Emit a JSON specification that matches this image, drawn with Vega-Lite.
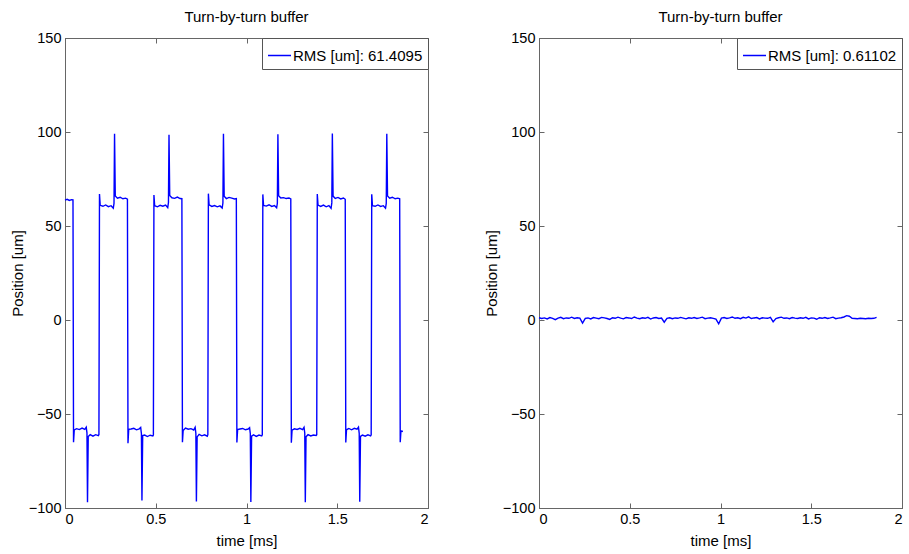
{
  "$schema": "https://vega.github.io/schema/vega-lite/v6.json",
  "background": "white",
  "padding": {"left": 9, "top": 9, "right": 2, "bottom": 2},
  "spacing": 54,
  "config": {
    "font": "Liberation Sans",
    "view": {"stroke": "#666666", "strokeWidth": 1},
    "axis": {
      "domainColor": "#666666",
      "tickColor": "#666666",
      "tickSize": -5,
      "labelFontSize": 14.5,
      "labelColor": "#000000",
      "titleFontSize": 15,
      "titleFontWeight": "normal",
      "titleColor": "#000000",
      "grid": false,
      "labelPadding": 9,
      "format": "~f"
    },
    "axisBottom": {"titlePadding": 8},
    "axisLeft": {"titlePadding": 3},
    "title": {"fontSize": 15, "fontWeight": "normal", "color": "#000000", "offset": 5},
    "legend": {
      "orient": "top-right",
      "offset": 0,
      "strokeColor": "#555555",
      "fillColor": "#ffffff",
      "padding": 5,
      "symbolType": "stroke",
      "symbolSize": 529,
      "symbolStrokeWidth": 1.5,
      "labelOffset": 1,
      "labelFontSize": 15,
      "labelColor": "#000000",
      "title": null
    }
  },
  "datasets": {
    "a": [
      {"t":0.000,"v":63.8},{"t":0.012,"v":64.2},{"t":0.024,"v":63.6},{"t":0.036,"v":64.0},
      {"t":0.044,"v":63.9},{"t":0.047,"v":-65},{"t":0.051,"v":-58.5},{"t":0.064,"v":-57.8},{"t":0.079,"v":-58.3},{"t":0.094,"v":-57.5},{"t":0.109,"v":-58.2},{"t":0.117,"v":-57.0},{"t":0.121,"v":-60},{"t":0.124,"v":-97},{"t":0.128,"v":-62},{"t":0.139,"v":-61},{"t":0.154,"v":-61.8},{"t":0.169,"v":-61},{"t":0.184,"v":-61.5},{"t":0.187,"v":-61},{"t":0.190,"v":67},{"t":0.194,"v":61},{"t":0.209,"v":60.5},{"t":0.224,"v":61.2},{"t":0.239,"v":60.3},{"t":0.254,"v":60.8},{"t":0.266,"v":59.5},{"t":0.270,"v":62},{"t":0.273,"v":99},{"t":0.277,"v":66},{"t":0.289,"v":64.8},{"t":0.304,"v":65.3},{"t":0.319,"v":64.5},{"t":0.334,"v":64.8},
      {"t":0.344,"v":64.3},{"t":0.347,"v":-65.5},{"t":0.351,"v":-58.2},{"t":0.364,"v":-58.0},{"t":0.379,"v":-57.6},{"t":0.394,"v":-58.4},{"t":0.409,"v":-57.9},{"t":0.417,"v":-57.2},{"t":0.421,"v":-60.5},{"t":0.424,"v":-96},{"t":0.428,"v":-61.5},{"t":0.439,"v":-61.2},{"t":0.454,"v":-62.0},{"t":0.469,"v":-61.3},{"t":0.484,"v":-61.7},{"t":0.487,"v":-61.2},{"t":0.490,"v":66.5},{"t":0.494,"v":60.8},{"t":0.509,"v":60.2},{"t":0.524,"v":61.0},{"t":0.539,"v":60.5},{"t":0.554,"v":61.1},{"t":0.566,"v":59.8},{"t":0.570,"v":62.5},{"t":0.573,"v":98.5},{"t":0.577,"v":66.2},{"t":0.589,"v":65.0},{"t":0.604,"v":64.7},{"t":0.619,"v":65.4},{"t":0.634,"v":64.6},
      {"t":0.644,"v":64.5},{"t":0.647,"v":-65},{"t":0.651,"v":-58.8},{"t":0.664,"v":-57.5},{"t":0.679,"v":-58.1},{"t":0.694,"v":-57.8},{"t":0.709,"v":-58.5},{"t":0.717,"v":-57.1},{"t":0.721,"v":-60.2},{"t":0.724,"v":-96.5},{"t":0.728,"v":-62.2},{"t":0.739,"v":-60.8},{"t":0.754,"v":-61.6},{"t":0.769,"v":-61.1},{"t":0.784,"v":-61.8},{"t":0.787,"v":-61.0},{"t":0.790,"v":67.2},{"t":0.794,"v":61.2},{"t":0.809,"v":60.4},{"t":0.824,"v":60.9},{"t":0.839,"v":60.2},{"t":0.854,"v":60.7},{"t":0.866,"v":59.6},{"t":0.870,"v":62.2},{"t":0.873,"v":99},{"t":0.877,"v":65.8},{"t":0.889,"v":64.6},{"t":0.904,"v":65.2},{"t":0.919,"v":64.8},{"t":0.934,"v":64.4},
      {"t":0.944,"v":64.6},{"t":0.947,"v":-65.2},{"t":0.951,"v":-58.3},{"t":0.964,"v":-58.0},{"t":0.979,"v":-57.7},{"t":0.994,"v":-58.4},{"t":1.009,"v":-58.0},{"t":1.017,"v":-57.3},{"t":1.021,"v":-60.4},{"t":1.024,"v":-96.8},{"t":1.028,"v":-61.8},{"t":1.039,"v":-61.1},{"t":1.054,"v":-61.9},{"t":1.069,"v":-61.2},{"t":1.084,"v":-61.6},{"t":1.087,"v":-61.1},{"t":1.090,"v":66.8},{"t":1.094,"v":60.9},{"t":1.109,"v":60.6},{"t":1.124,"v":61.3},{"t":1.139,"v":60.4},{"t":1.154,"v":60.9},{"t":1.166,"v":59.7},{"t":1.170,"v":62.1},{"t":1.173,"v":98.8},{"t":1.177,"v":66.1},{"t":1.189,"v":64.9},{"t":1.204,"v":65.1},{"t":1.219,"v":64.6},{"t":1.234,"v":64.9},
      {"t":1.244,"v":64.4},{"t":1.247,"v":-65.3},{"t":1.251,"v":-58.6},{"t":1.264,"v":-57.9},{"t":1.279,"v":-58.2},{"t":1.294,"v":-57.6},{"t":1.309,"v":-58.3},{"t":1.317,"v":-57.1},{"t":1.321,"v":-60.1},{"t":1.324,"v":-97},{"t":1.328,"v":-62.1},{"t":1.339,"v":-61.0},{"t":1.354,"v":-61.7},{"t":1.369,"v":-61.2},{"t":1.384,"v":-61.4},{"t":1.387,"v":-61.0},{"t":1.390,"v":67.0},{"t":1.394,"v":61.1},{"t":1.409,"v":60.4},{"t":1.424,"v":61.1},{"t":1.439,"v":60.2},{"t":1.454,"v":60.9},{"t":1.466,"v":59.4},{"t":1.470,"v":62.3},{"t":1.473,"v":99.2},{"t":1.477,"v":65.9},{"t":1.489,"v":64.7},{"t":1.504,"v":65.2},{"t":1.519,"v":64.4},{"t":1.534,"v":64.9},
      {"t":1.544,"v":64.2},{"t":1.547,"v":-65.1},{"t":1.551,"v":-58.4},{"t":1.564,"v":-57.7},{"t":1.579,"v":-58.4},{"t":1.594,"v":-57.6},{"t":1.609,"v":-58.1},{"t":1.617,"v":-57.0},{"t":1.621,"v":-60.3},{"t":1.624,"v":-96.7},{"t":1.628,"v":-61.9},{"t":1.639,"v":-61.2},{"t":1.654,"v":-61.8},{"t":1.669,"v":-61.1},{"t":1.684,"v":-61.6},{"t":1.687,"v":-61.1},{"t":1.690,"v":66.9},{"t":1.694,"v":60.8},{"t":1.709,"v":60.5},{"t":1.724,"v":61.2},{"t":1.739,"v":60.4},{"t":1.754,"v":60.8},{"t":1.766,"v":59.5},{"t":1.770,"v":62.0},{"t":1.773,"v":99},{"t":1.777,"v":66.0},{"t":1.789,"v":64.8},{"t":1.804,"v":65.3},{"t":1.819,"v":64.5},{"t":1.834,"v":64.8},
      {"t":1.844,"v":64.5},{"t":1.847,"v":-65},{"t":1.851,"v":-59.0},{"t":1.862,"v":-59.3}
    ],
    "b": [
      {"t":0.000,"v":1.2},{"t":0.015,"v":0.8},{"t":0.030,"v":1.1},{"t":0.045,"v":0.6},{"t":0.060,"v":1.3},{"t":0.075,"v":0.9},{"t":0.090,"v":0.2},{"t":0.105,"v":1.0},{"t":0.120,"v":1.4},{"t":0.135,"v":0.7},
      {"t":0.150,"v":1.1},{"t":0.165,"v":0.9},{"t":0.180,"v":1.5},{"t":0.195,"v":0.8},{"t":0.210,"v":1.2},{"t":0.225,"v":1.0},{"t":0.240,"v":-1.6},{"t":0.255,"v":0.9},{"t":0.270,"v":1.1},{"t":0.285,"v":0.6},
      {"t":0.300,"v":1.3},{"t":0.315,"v":1.0},{"t":0.330,"v":0.7},{"t":0.345,"v":1.4},{"t":0.360,"v":1.1},{"t":0.375,"v":0.8},{"t":0.390,"v":0.3},{"t":0.405,"v":1.2},{"t":0.420,"v":0.9},{"t":0.435,"v":1.5},
      {"t":0.450,"v":1.0},{"t":0.465,"v":0.6},{"t":0.480,"v":1.3},{"t":0.495,"v":1.1},{"t":0.510,"v":0.8},{"t":0.525,"v":1.6},{"t":0.540,"v":1.0},{"t":0.555,"v":0.7},{"t":0.570,"v":1.2},{"t":0.585,"v":0.9},
      {"t":0.600,"v":1.4},{"t":0.615,"v":0.5},{"t":0.630,"v":1.1},{"t":0.645,"v":1.3},{"t":0.660,"v":0.8},{"t":0.675,"v":1.0},{"t":0.690,"v":-1.2},{"t":0.705,"v":0.9},{"t":0.720,"v":1.2},{"t":0.735,"v":0.7},
      {"t":0.750,"v":1.1},{"t":0.765,"v":0.9},{"t":0.780,"v":1.4},{"t":0.795,"v":1.0},{"t":0.810,"v":0.6},{"t":0.825,"v":1.2},{"t":0.840,"v":0.9},{"t":0.855,"v":1.3},{"t":0.870,"v":0.8},{"t":0.885,"v":1.1},
      {"t":0.900,"v":1.5},{"t":0.915,"v":0.7},{"t":0.930,"v":1.0},{"t":0.945,"v":1.2},{"t":0.960,"v":0.9},{"t":0.975,"v":0.5},{"t":0.990,"v":-2.0},{"t":1.005,"v":1.0},{"t":1.020,"v":1.3},{"t":1.035,"v":0.8},
      {"t":1.050,"v":1.1},{"t":1.065,"v":1.6},{"t":1.080,"v":0.9},{"t":1.095,"v":1.2},{"t":1.110,"v":0.7},{"t":1.125,"v":1.4},{"t":1.140,"v":1.0},{"t":1.155,"v":1.7},{"t":1.170,"v":0.8},{"t":1.185,"v":1.1},
      {"t":1.200,"v":1.3},{"t":1.215,"v":0.6},{"t":1.230,"v":1.2},{"t":1.245,"v":1.0},{"t":1.260,"v":0.9},{"t":1.275,"v":1.4},{"t":1.290,"v":-1.0},{"t":1.305,"v":0.8},{"t":1.320,"v":1.2},{"t":1.335,"v":1.5},
      {"t":1.350,"v":0.9},{"t":1.365,"v":1.1},{"t":1.380,"v":0.7},{"t":1.395,"v":1.3},{"t":1.410,"v":1.0},{"t":1.425,"v":0.8},{"t":1.440,"v":1.2},{"t":1.455,"v":0.9},{"t":1.470,"v":1.4},{"t":1.485,"v":0.6},
      {"t":1.500,"v":1.1},{"t":1.515,"v":1.0},{"t":1.530,"v":0.4},{"t":1.545,"v":1.2},{"t":1.560,"v":0.9},{"t":1.575,"v":1.3},{"t":1.590,"v":0.8},{"t":1.605,"v":1.1},{"t":1.620,"v":1.5},{"t":1.635,"v":0.7},
      {"t":1.650,"v":1.0},{"t":1.665,"v":1.2},{"t":1.680,"v":1.6},{"t":1.695,"v":2.3},{"t":1.710,"v":2.0},{"t":1.725,"v":0.9},{"t":1.740,"v":0.8},{"t":1.755,"v":0.7},{"t":1.770,"v":0.9},{"t":1.785,"v":0.8},
      {"t":1.800,"v":0.7},{"t":1.815,"v":0.9},{"t":1.830,"v":0.8},{"t":1.845,"v":0.9},{"t":1.860,"v":1.4}
    ]
  },
  "hconcat": [
    {
      "width": 363, "height": 470,
      "title": "Turn-by-turn buffer",
      "data": {"name": "a"},
      "layer": [
        {
          "mark": {"type": "line", "strokeWidth": 1.4},
          "encoding": {
            "x": {"field": "t", "type": "quantitative", "scale": {"domain": [0, 2], "nice": false}, "axis": {"title": "time [ms]", "values": [0, 0.5, 1, 1.5, 2]}},
            "y": {"field": "v", "type": "quantitative", "scale": {"domain": [-100, 150], "nice": false}, "axis": {"title": "Position [um]", "values": [-100, -50, 0, 50, 100, 150]}},
            "color": {"datum": "RMS [um]: 61.4095", "type": "nominal", "scale": {"range": ["#0000ff"]}}
          }
        },
        {
          "mark": {"type": "line", "opacity": 0},
          "encoding": {
            "x": {"field": "t", "type": "quantitative", "axis": {"orient": "top", "title": null, "labels": false, "values": [0, 0.5, 1, 1.5, 2]}},
            "y": {"field": "v", "type": "quantitative", "axis": {"orient": "right", "title": null, "labels": false, "values": [-100, -50, 0, 50, 100, 150]}}
          }
        }
      ],
      "resolve": {"axis": {"x": "independent", "y": "independent"}}
    },
    {
      "width": 363, "height": 470,
      "title": "Turn-by-turn buffer",
      "data": {"name": "b"},
      "layer": [
        {
          "mark": {"type": "line", "strokeWidth": 1.4},
          "encoding": {
            "x": {"field": "t", "type": "quantitative", "scale": {"domain": [0, 2], "nice": false}, "axis": {"title": "time [ms]", "values": [0, 0.5, 1, 1.5, 2]}},
            "y": {"field": "v", "type": "quantitative", "scale": {"domain": [-100, 150], "nice": false}, "axis": {"title": "Position [um]", "values": [-100, -50, 0, 50, 100, 150]}},
            "color": {"datum": "RMS [um]: 0.61102", "type": "nominal", "scale": {"range": ["#0000ff"]}}
          }
        },
        {
          "mark": {"type": "line", "opacity": 0},
          "encoding": {
            "x": {"field": "t", "type": "quantitative", "axis": {"orient": "top", "title": null, "labels": false, "values": [0, 0.5, 1, 1.5, 2]}},
            "y": {"field": "v", "type": "quantitative", "axis": {"orient": "right", "title": null, "labels": false, "values": [-100, -50, 0, 50, 100, 150]}}
          }
        }
      ],
      "resolve": {"axis": {"x": "independent", "y": "independent"}}
    }
  ],
  "resolve": {"scale": {"color": "independent"}}
}
